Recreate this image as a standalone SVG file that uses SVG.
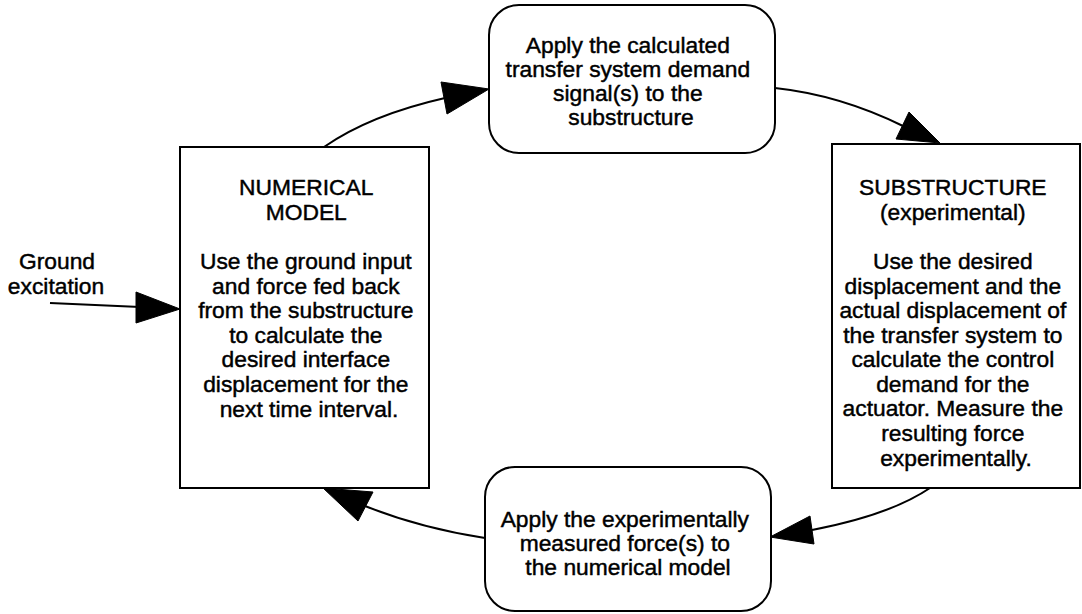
<svg xmlns="http://www.w3.org/2000/svg" width="1082" height="614" viewBox="0 0 1082 614">
  <style>
    .box { fill: #fff; stroke: #000; stroke-width: 2; }
    .t { font-family: "Liberation Sans", Arial, sans-serif; font-size: 22.8px; fill: #000; stroke: #000; stroke-width: 0.45; text-anchor: middle; }
    .edge { fill: none; stroke: #000; stroke-width: 2; }
    .head { fill: #000; stroke: #000; stroke-width: 1; stroke-linejoin: miter; }
  </style>
  <rect width="1082" height="614" fill="#fff"/>

  <g id="connectors">
    <path class="edge" d="M50,303 L140,307"/>
    <polygon class="head" points="136,292 136,323 180,309"/>
    <path class="edge" d="M324,147 Q370,115 445,98"/>
    <polygon class="head" points="441,82 447,114 489,89"/>
    <path class="edge" d="M775,88 Q840,95 903,126"/>
    <polygon class="head" points="909,112 896,139 940,143"/>
    <path class="edge" d="M930,488 Q890,515 812,530"/>
    <polygon class="head" points="810,516 814,544 770,537"/>
    <path class="edge" d="M485,538 Q420,528 365,506"/>
    <polygon class="head" points="373,492 358,521 323,488"/>
  </g>

  <g id="ground-label">
    <text class="t" x="57" y="269">Ground</text>
    <text class="t" x="56" y="294">excitation</text>
  </g>

  <g id="numerical-model">
    <rect class="box" x="180" y="147" width="249" height="341"/>
    <text class="t">
      <tspan x="309" y="195">NUMERICAL</tspan>
      <tspan x="309" y="219.5">MODEL</tspan>
      <tspan x="309" y="269">Use the ground input</tspan>
      <tspan x="309" y="293.5">and force fed back</tspan>
      <tspan x="309" y="318">from the substructure</tspan>
      <tspan x="309" y="342.5">to calculate the</tspan>
      <tspan x="309" y="367">desired interface</tspan>
      <tspan x="309" y="391.5">displacement for the</tspan>
      <tspan x="309" y="417">next time interval.</tspan>
    </text>
  </g>

  <g id="apply-demand">
    <rect class="box" x="489" y="5" width="286" height="148" rx="30" ry="30"/>
    <text class="t">
      <tspan x="631" y="53">Apply the calculated</tspan>
      <tspan x="631" y="77">transfer system demand</tspan>
      <tspan x="631" y="101">signal(s) to the</tspan>
      <tspan x="631" y="125">substructure</tspan>
    </text>
  </g>

  <g id="substructure">
    <rect class="box" x="832" y="144" width="248" height="344"/>
    <text class="t">
      <tspan x="956" y="195">SUBSTRUCTURE</tspan>
      <tspan x="956" y="219.5">(experimental)</tspan>
      <tspan x="956" y="269">Use the desired</tspan>
      <tspan x="956" y="293.5">displacement and the</tspan>
      <tspan x="956" y="318">actual displacement of</tspan>
      <tspan x="956" y="342.5">the transfer system to</tspan>
      <tspan x="956" y="367">calculate the control</tspan>
      <tspan x="956" y="391.5">demand for the</tspan>
      <tspan x="956" y="416">actuator. Measure the</tspan>
      <tspan x="956" y="440.5">resulting force</tspan>
      <tspan x="956" y="466">experimentally.</tspan>
    </text>
  </g>

  <g id="apply-force">
    <rect class="box" x="485" y="467" width="286" height="144" rx="30" ry="30"/>
    <text class="t">
      <tspan x="628" y="527">Apply the experimentally</tspan>
      <tspan x="628" y="551">measured force(s) to</tspan>
      <tspan x="628" y="575">the numerical model</tspan>
    </text>
  </g>
</svg>
